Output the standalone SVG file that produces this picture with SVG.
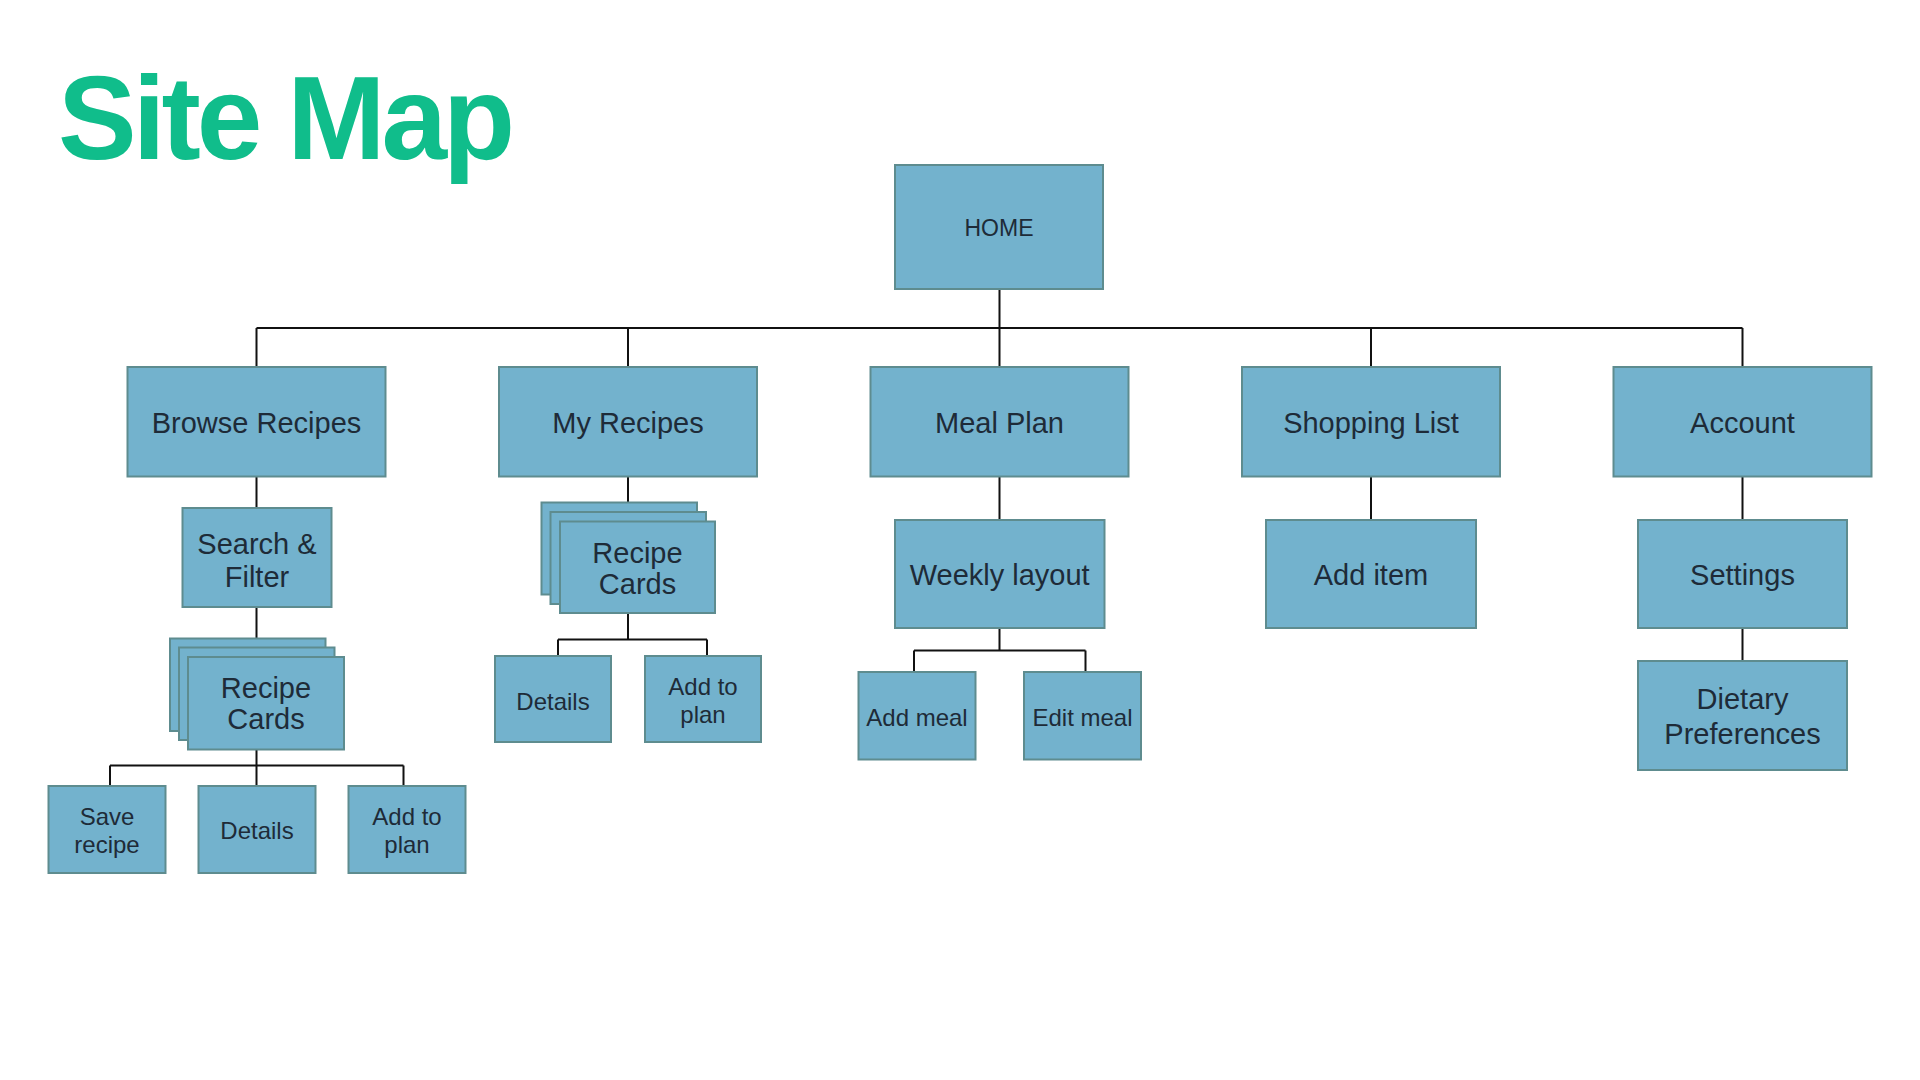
<svg xmlns="http://www.w3.org/2000/svg" width="1920" height="1080" viewBox="0 0 1920 1080">
<style>
.bx{fill:#73b2cd;stroke:#5e8c8f;stroke-width:2}
.t{font-family:"Liberation Sans",Arial,sans-serif;fill:#1e2b38;text-anchor:middle}
.l{font-size:29px}
.s{font-size:24px}
.c{fill:none;stroke:#111;stroke-width:2}
</style>
<rect width="1920" height="1080" fill="#fff"/>
<text x="58" y="158.5" font-family="Liberation Sans,Arial,sans-serif" font-weight="bold" font-size="118" letter-spacing="-4" fill="#10bd8b">Site Map</text>
<g id="connectors">
<path class="c" d="M999.5 289V328M256.5 328H1742.5M256.5 328V367M628 328V367M999.5 328V367M1371 328V367M1742.5 328V367"/>
<path class="c" d="M256.5 476.5V508M256.5 607V638.5M256.5 749.5V765.5M110 765.5H403.5M110 765.5V786M256.5 765.5V786M403.5 765.5V786"/>
<path class="c" d="M628 476.5V502.5M628 613V639.5M558 639.5H707M558 639.5V656M707 639.5V656"/>
<path class="c" d="M999.5 476.5V520M999.5 628V650.5M914 650.5H1085.5M914 650.5V672M1085.5 650.5V672"/>
<path class="c" d="M1371 476.5V520M1742.5 476.5V520M1742.5 628V661"/>
</g>
<g id="home"><rect class="bx" x="895" y="165" width="208" height="124"/><text class="t" x="999" y="236" font-size="23">HOME</text></g>
<g id="browse"><rect class="bx" x="127.5" y="367" width="258" height="109.5"/><text class="t l" x="256.5" y="433">Browse Recipes</text></g>
<g id="myrecipes"><rect class="bx" x="499" y="367" width="258" height="109.5"/><text class="t l" x="628" y="433">My Recipes</text></g>
<g id="mealplan"><rect class="bx" x="870.5" y="367" width="258" height="109.5"/><text class="t l" x="999.5" y="433">Meal Plan</text></g>
<g id="shopping"><rect class="bx" x="1242" y="367" width="258" height="109.5"/><text class="t l" x="1371" y="433">Shopping List</text></g>
<g id="account"><rect class="bx" x="1613.5" y="367" width="258" height="109.5"/><text class="t l" x="1742.5" y="433">Account</text></g>
<g id="search"><rect class="bx" x="182.5" y="508" width="149" height="99"/><text class="t l" x="257" y="553.5">Search &amp;</text><text class="t l" x="257" y="587">Filter</text></g>
<g id="browse-cards"><rect class="bx" x="170" y="638.5" width="155.5" height="92.5"/><rect class="bx" x="179" y="647.5" width="155.5" height="92.5"/><rect class="bx" x="188" y="657" width="156" height="92.5"/><text class="t l" x="266" y="698">Recipe</text><text class="t l" x="266" y="729">Cards</text></g>
<g id="save-recipe"><rect class="bx" x="48.5" y="786" width="117" height="87"/><text class="t s" x="107" y="824.5">Save</text><text class="t s" x="107" y="852.5">recipe</text></g>
<g id="browse-details"><rect class="bx" x="198.5" y="786" width="117" height="87"/><text class="t s" x="257" y="839">Details</text></g>
<g id="browse-add"><rect class="bx" x="348.5" y="786" width="117" height="87"/><text class="t s" x="407" y="824.5">Add to</text><text class="t s" x="407" y="852.5">plan</text></g>
<g id="my-cards"><rect class="bx" x="541.5" y="502.5" width="155.5" height="92"/><rect class="bx" x="550.5" y="512" width="155.5" height="92"/><rect class="bx" x="560" y="521.5" width="155" height="91.5"/><text class="t l" x="637.5" y="562.5">Recipe</text><text class="t l" x="637.5" y="593.5">Cards</text></g>
<g id="my-details"><rect class="bx" x="495" y="656" width="116" height="86"/><text class="t s" x="553" y="709.5">Details</text></g>
<g id="my-add"><rect class="bx" x="645" y="656" width="116" height="86"/><text class="t s" x="703" y="694.5">Add to</text><text class="t s" x="703" y="723">plan</text></g>
<g id="weekly"><rect class="bx" x="895" y="520" width="209.5" height="108"/><text class="t l" x="999.7" y="585">Weekly layout</text></g>
<g id="add-meal"><rect class="bx" x="858.5" y="672" width="117" height="87.5"/><text class="t s" x="917" y="725.5">Add meal</text></g>
<g id="edit-meal"><rect class="bx" x="1024" y="672" width="117" height="87.5"/><text class="t s" x="1082.5" y="725.5">Edit meal</text></g>
<g id="add-item"><rect class="bx" x="1266" y="520" width="210" height="108"/><text class="t l" x="1371" y="585">Add item</text></g>
<g id="settings"><rect class="bx" x="1638" y="520" width="209" height="108"/><text class="t l" x="1742.5" y="585">Settings</text></g>
<g id="dietary"><rect class="bx" x="1638" y="661" width="209" height="109"/><text class="t l" x="1742.5" y="709">Dietary</text><text class="t l" x="1742.5" y="743.5">Preferences</text></g>
</svg>
